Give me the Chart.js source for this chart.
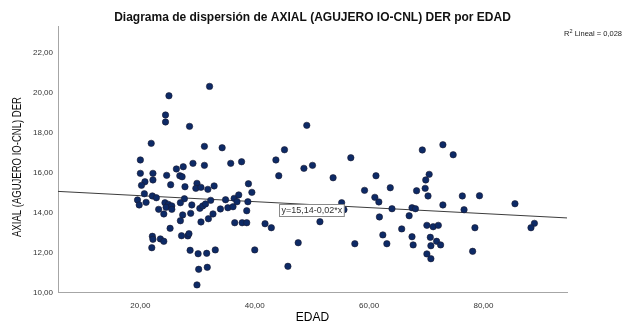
<!DOCTYPE html>
<html>
<head>
<meta charset="utf-8">
<script src="https://cdn.jsdelivr.net/npm/chart.js@4.4.1/dist/chart.umd.min.js"></script>
<style>
html,body{margin:0;padding:0;background:#fff;}
#wrap{width:625px;height:323px;position:relative;}
</style>
</head>
<body>
<div id="wrap"><canvas id="c" width="625" height="323"></canvas></div>
<script>
// ---- data ----
const titleText = 'Diagrama de dispersión de AXIAL (AGUJERO IO-CNL) DER por EDAD';
const xTitle = 'EDAD';
const yTitle = 'AXIAL (AGUJERO IO-CNL) DER';
const xTicks = [20, 40, 60, 80];
const yTicks = [10, 12, 14, 16, 18, 20, 22];
const edad = [
 32.1,25.0,24.4,24.4,28.6,21.9,31.2,34.3,20.0,29.2,31.2,35.8,26.3,27.5,20.0,22.2,24.6,26.9,27.3,20.8,
 22.2,20.2,25.3,27.8,29.9,29.7,30.6,31.8,32.9,20.7,22.1,22.8,27.7,19.5,19.8,21.0,24.3,24.9,24.5,25.5,
 25.5,27.0,23.2,29.0,30.4,30.9,31.4,32.3,34.9,36.4,34.0,35.3,36.2,24.1,27.4,28.8,32.7,27.0,30.6,31.9,
 36.5,25.2,22.1,22.2,23.5,24.1,27.2,28.3,28.5,22.0,28.7,30.1,31.6,33.1,30.2,31.7,29.9,
 49.1,45.2,37.7,43.7,48.6,50.1,44.2,53.7,38.9,39.5,37.2,36.9,38.8,38.6,37.8,38.6,41.8,42.9,51.4,47.6,
 40.0,45.8,
 69.3,56.8,61.2,70.5,69.9,59.2,63.7,68.3,69.8,70.3,61.0,61.7,55.2,55.6,64.0,67.5,68.1,61.8,67.0,65.7,
 70.1,71.2,62.4,67.5,70.7,57.5,63.1,67.7,70.8,70.1,70.8,
 72.9,74.7,76.3,79.3,72.9,76.6,85.5,72.1,78.5,88.9,88.3,71.8,72.5,78.1
];
const axial = [
 20.31,19.84,18.88,18.53,18.31,17.46,17.31,17.24,16.63,16.46,16.36,16.46,16.18,16.29,15.96,15.96,15.86,15.84,15.79,15.54,
 15.63,15.36,15.39,15.29,15.46,15.21,15.26,15.16,15.33,14.94,14.83,14.74,14.69,14.63,14.38,14.51,14.49,14.41,14.26,14.33,
 14.16,14.49,14.16,14.38,14.21,14.33,14.43,14.61,14.64,14.71,14.18,14.24,14.29,13.93,13.88,13.96,13.93,13.59,13.53,13.69,
 13.49,13.21,12.81,12.66,12.68,12.56,12.84,12.83,12.94,12.24,12.11,11.94,11.96,12.13,11.16,11.26,10.38,
 18.36,17.14,16.54,16.63,16.21,16.36,15.84,15.74,15.44,15.01,14.88,14.54,14.54,14.09,13.49,13.49,13.44,13.24,13.54,12.49,
 12.13,11.31,
 17.13,16.74,15.84,15.91,15.63,15.11,15.24,15.09,15.21,14.83,14.76,14.53,14.49,14.14,14.19,14.24,14.19,13.78,13.84,13.18,
 13.36,13.29,12.88,12.79,12.76,12.44,12.44,12.38,12.34,11.93,11.69,
 17.39,16.89,14.83,14.84,14.38,14.14,14.44,13.36,13.24,13.46,13.24,12.56,12.38,12.06
];
const fitX = [5.6, 94.6];
const fitY = [15.057, 13.73];
const fitLabel = 'y=15,14-0,02*x';
const r2Label = ' Lineal = 0,028';

// ---- build ----
const points = edad.map((x, i) => ({x: x, y: axial[i]}));
const fitPoints = fitX.map((x, i) => ({x: x, y: fitY[i]}));
const fmt = v => Number(v).toFixed(2).replace('.', ',');
const FONT = '"Liberation Sans", Arial, sans-serif';

const extras = {
  id: 'extras',
  afterDatasetsDraw(chart) {
    const ctx = chart.ctx;
    const xs = chart.scales.x, ys = chart.scales.y;
    // regression label box
    ctx.save();
    ctx.font = '9px ' + FONT;
    const w = ctx.measureText(fitLabel).width + 4;
    const bx = Math.round(xs.getPixelForValue(44.2)) + 0.5;
    const by = Math.round(ys.getPixelForValue(14.42)) + 0.5;
    const bh = 12;
    ctx.fillStyle = '#fff';
    ctx.fillRect(bx, by, w, bh);
    ctx.strokeStyle = '#8a8a8a';
    ctx.lineWidth = 1;
    ctx.strokeRect(bx, by, w, bh);
    ctx.fillStyle = '#333';
    ctx.textBaseline = 'middle';
    ctx.textAlign = 'left';
    ctx.fillText(fitLabel, bx + 2, by + bh / 2 + 0.5);
    // R2 label
    ctx.font = '7.5px ' + FONT;
    const restW = ctx.measureText(r2Label).width;
    const rx = 622 - restW;
    ctx.fillStyle = '#222';
    ctx.fillText(r2Label, rx, 34);
    ctx.font = '5.5px ' + FONT;
    const sw = ctx.measureText('2').width;
    ctx.fillText('2', rx - sw, 31);
    ctx.font = '7.5px ' + FONT;
    const rw = ctx.measureText('R').width;
    ctx.fillText('R', rx - sw - rw, 34);
    // y axis title (condensed, as in the reference)
    ctx.font = '12px ' + FONT;
    const tw = ctx.measureText(yTitle).width;
    const sx = 140 / tw;
    ctx.translate(18, 167);
    ctx.rotate(-Math.PI / 2);
    ctx.scale(sx, 1);
    ctx.textAlign = 'center';
    ctx.textBaseline = 'middle';
    ctx.fillStyle = '#111';
    ctx.fillText(yTitle, 0, 0);
    ctx.restore();
  }
};

new Chart(document.getElementById('c'), {
  type: 'scatter',
  data: {
    datasets: [
      {
        type: 'line',
        data: fitPoints,
        borderColor: '#3c3c3c',
        borderWidth: 1,
        pointRadius: 0,
        fill: false,
        order: 2
      },
      {
        data: points,
        backgroundColor: '#0d2a66',
        borderColor: '#1b1b30',
        borderWidth: 0.6,
        pointRadius: 3.2,
        order: 1
      }
    ]
  },
  options: {
    responsive: false,
    animation: false,
    devicePixelRatio: 1,
    layout: {padding: {left: 0, right: 0, top: 0, bottom: 0}},
    plugins: {
      legend: {display: false},
      tooltip: {enabled: false},
      title: {
        display: true,
        text: titleText,
        color: '#111',
        font: {family: FONT, size: 12, weight: 'bold', lineHeight: 1.2},
        padding: {top: 10, bottom: 1.6}
      }
    },
    scales: {
      x: {
        type: 'linear',
        min: 5.6,
        max: 94.6,
        afterBuildTicks: s => { s.ticks = xTicks.map(v => ({value: v})); },
        afterFit: s => { s.height = 30.5; },
        grid: {display: false, drawTicks: false},
        border: {display: true, color: '#a6a6a6', width: 1},
        ticks: {
          callback: v => fmt(v),
          color: '#333',
          padding: 8,
          maxRotation: 0,
          font: {family: FONT, size: 8}
        },
        title: {
          display: true,
          text: xTitle,
          color: '#000',
          font: {family: FONT, size: 12, lineHeight: 1},
          padding: {top: 0, bottom: -1}
        }
      },
      y: {
        type: 'linear',
        min: 10,
        max: 23.33,
        afterBuildTicks: s => { s.ticks = yTicks.map(v => ({value: v})); },
        afterFit: s => { s.width = 58; },
        grid: {display: false, drawTicks: false},
        border: {display: true, color: '#a6a6a6', width: 1},
        ticks: {
          callback: v => fmt(v),
          color: '#333',
          padding: 5,
          font: {family: FONT, size: 8}
        },
        title: {display: false, text: yTitle}
      },
      yRight: {
        type: 'linear',
        position: 'right',
        min: 10,
        max: 23.33,
        afterFit: s => { s.width = 58; },
        grid: {display: false, drawTicks: false},
        border: {display: false},
        ticks: {display: false}
      }
    }
  },
  plugins: [extras]
});
</script>
</body>
</html>
